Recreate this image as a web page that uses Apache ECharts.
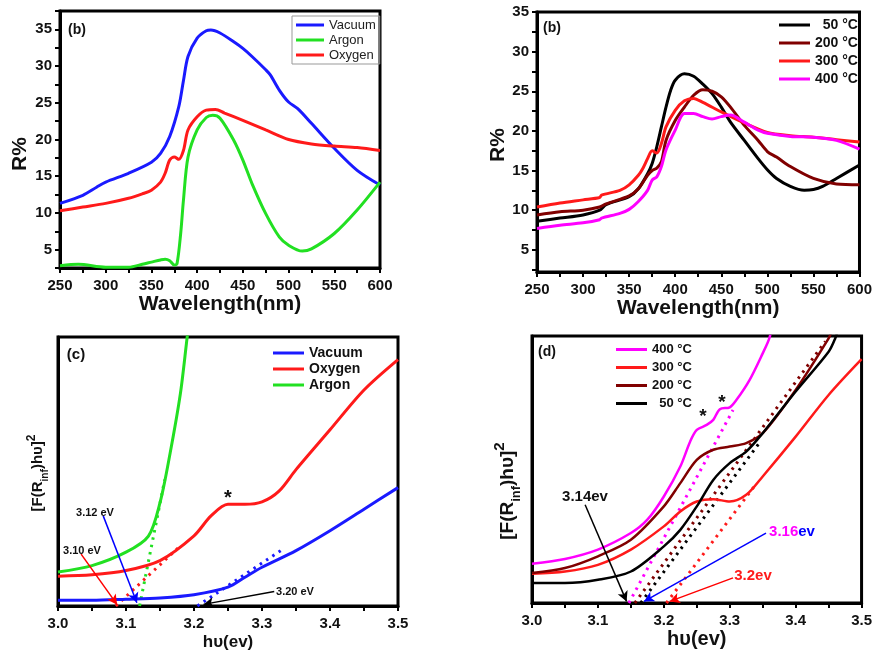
<!DOCTYPE html>
<html>
<head>
<meta charset="utf-8">
<script src="https://cdn.jsdelivr.net/npm/echarts@6/dist/echarts.min.js"></script>
<style>
  html, body { margin: 0; padding: 0; background: #fff; }
  #main { width: 875px; height: 652px; }
</style>
</head>
<body>
<div id="main"></div>
<script>
// tick labels
const wlLabels = [250, 300, 350, 400, 450, 500, 550, 600];
const wlTicks = [250, 275, 300, 325, 350, 375, 400, 425, 450, 475, 500, 525, 550, 575, 600];
const rLabels = [5, 10, 15, 20, 25, 30, 35];
const rTicks = [2.5, 5, 7.5, 10, 12.5, 15, 17.5, 20, 22.5, 25, 27.5, 30, 32.5, 35, 37.5];
const evLabels = [3.0, 3.1, 3.2, 3.3, 3.4, 3.5];
const evTicks = [3.0, 3.05, 3.1, 3.15, 3.2, 3.25, 3.3, 3.35, 3.4, 3.45, 3.5];

// (a) reflectance vs wavelength, atmosphere
const vacuumR = [[250,11.3],[275,12.4],[290,13.5],[300,14.2],[325,15.4],[350,16.9],[360,18.1],[370,20.4],[380,24.5],[385,28],[390,31.3],[400,33.8],[410,34.8],[415,34.9],[425,34.5],[440,33.3],[450,32.4],[460,31.3],[475,29.5],[480,28.8],[490,26.7],[500,25.1],[510,24.2],[525,22.2],[550,18.8],[575,15.8],[600,13.8]];
const argonR = [[250,2.8],[270,3.0],[300,2.6],[325,2.6],[340,3.0],[350,3.3],[360,3.6],[365,3.7],[370,3.5],[375,2.9],[378,3.1],[382,7.2],[385,11.7],[390,17.6],[400,21.3],[410,23],[417,23.3],[425,22.9],[440,19.9],[450,17.2],[460,14],[475,9.9],[490,6.7],[500,5.6],[515,4.8],[525,5.1],[550,7.2],[575,10.4],[600,14.2]];
const oxygenR = [[250,10.3],[275,10.8],[300,11.3],[325,12],[340,12.6],[350,13.1],[360,14.2],[365,15.4],[370,17.2],[375,17.6],[380,17.3],[385,18.5],[390,21.3],[400,23.1],[410,24],[420,24.1],[430,23.6],[450,22.6],[475,21.3],[500,20],[525,19.4],[550,19.1],[575,18.9],[600,18.5]];

// (b) reflectance vs wavelength, temperature
const t50R = [[250,8.6],[275,9.0],[300,9.4],[318,10.0],[325,10.7],[350,11.7],[360,12.7],[370,14.6],[375,15.9],[380,18],[385,20.5],[390,23],[395,25.1],[400,26.4],[410,27.2],[420,26.9],[430,25.9],[440,24.7],[450,23],[460,21.1],[475,18.8],[490,16.5],[500,15.1],[510,14],[525,13],[540,12.5],[550,12.6],[560,13],[575,14],[600,15.7]];
const t200R = [[250,9.4],[275,9.8],[300,10.0],[318,10.4],[325,10.8],[350,11.8],[360,12.7],[370,14.4],[375,15],[380,15.3],[385,16.1],[390,18.8],[400,21.3],[410,23],[420,24.5],[430,25.2],[440,25],[450,24.3],[460,23],[475,20.7],[490,18.8],[500,17.4],[510,16.7],[525,15.5],[550,14],[575,13.3],[600,13.2]];
const t300R = [[250,10.4],[275,10.9],[300,11.3],[318,11.6],[320,11.9],[340,12.5],[350,13.2],[360,14.4],[365,15.3],[370,16.5],[375,17.5],[380,17.2],[385,18.4],[390,20.5],[400,22.6],[410,23.8],[420,24.1],[430,23.6],[450,22.4],[475,21],[500,19.8],[525,19.4],[550,19.2],[575,18.9],[600,18.6]];
const t400R = [[250,7.7],[275,8.1],[300,8.4],[318,8.8],[320,9.0],[340,9.6],[350,10.1],[360,11.1],[370,12.5],[375,13.8],[380,14.2],[385,15.5],[390,17.6],[400,20.1],[410,22.2],[420,22.2],[430,21.8],[440,21.5],[450,21.8],[460,22],[475,21.1],[490,20.1],[500,19.7],[525,19.3],[550,19.2],[575,18.8],[600,17.7]];

// (c) Kubelka-Munk, atmosphere (arbitrary units 0-100)
const vacuumKM = [[3.0,2.1],[3.05,2.1],[3.1,2.5],[3.15,3.0],[3.2,4.2],[3.25,7.0],[3.275,10.7],[3.3,14.4],[3.35,20.6],[3.4,28],[3.45,36],[3.5,44]];
const oxygenKM = [[3.0,11.1],[3.05,11.6],[3.1,13.2],[3.15,16.9],[3.2,26.1],[3.225,33.5],[3.25,37.8],[3.275,37.8],[3.3,38.7],[3.325,42.7],[3.35,50.7],[3.4,65.5],[3.45,80.3],[3.5,91.6]];
const argonKM = [[3.0,12.6],[3.05,15],[3.1,20],[3.133,26],[3.15,38.4],[3.165,57],[3.18,79],[3.19,100],[3.195,110]];
const vacuumFit = [[3.205,0],[3.33,21]];
const oxygenFit = [[3.085,0],[3.18,22.4]];
const argonFit = [[3.12,0],[3.157,47]];

// (d) Kubelka-Munk, temperature
const t400KM = [[3.0,14.7],[3.05,16.5],[3.1,20],[3.15,26.2],[3.175,31.2],[3.2,39.9],[3.225,51.1],[3.24,60.5],[3.25,64.8],[3.265,66.7],[3.275,68.6],[3.285,72.6],[3.3,73.3],[3.31,76],[3.33,83.5],[3.35,93.5],[3.36,99.1],[3.365,105]];
const t300KM = [[3.0,11],[3.05,11.8],[3.1,14.3],[3.15,20],[3.2,28.7],[3.225,34.3],[3.25,38],[3.275,38.9],[3.3,38],[3.325,40.5],[3.35,47.4],[3.4,62.3],[3.45,77.9],[3.5,91.3]];
const t200KM = [[3.0,11.2],[3.05,13.1],[3.1,17.5],[3.15,23.7],[3.2,36.2],[3.225,44.9],[3.25,53.6],[3.275,57.4],[3.3,58.6],[3.325,59.9],[3.35,63.6],[3.4,79.8],[3.45,99.1],[3.455,102]];
const t50KM = [[3.0,7.5],[3.05,7.5],[3.1,8.7],[3.15,11.8],[3.2,21.2],[3.225,27.4],[3.25,36.2],[3.275,46.1],[3.3,52.4],[3.325,56.7],[3.35,63.6],[3.4,79.2],[3.45,94.1],[3.46,99.1],[3.465,103]];
const t400Fit = [[3.147,0],[3.305,72.3]];
const t300Fit = [[3.204,0],[3.337,43.6]];
const t200Fit = [[3.156,0],[3.445,98]];
const t50Fit = [[3.165,0],[3.345,60]];

// band gap arrows [start, end]
const arrowsC = [
  {from: [3.0665,33.5], to: [3.116,1.2], color: '#0000ff'},
  {from: [3.034,19.3], to: [3.087,0.5], color: '#ff0000'},
  {from: [3.318,5.4], to: [3.214,0.6], color: '#000000'}
];
const arrowsD = [
  {from: [3.0806,36.8], to: [3.1435,0.6], color: '#000000'},
  {from: [3.355,26.2], to: [3.17,0.6], color: '#0000ff'},
  {from: [3.305,9.4], to: [3.209,0.6], color: '#ff0000'}
];

const BLUE = '#1a1aff', GREEN = '#22e022', RED = '#ff1a1a', DARKRED = '#800000', MAGENTA = '#ff00ff', BLACK = '#000000';
const FONT = 'Liberation Sans';

var chartDom = document.getElementById('main');
var myChart = echarts.init(chartDom);

function xAxisFor(gridIndex, kind) {
    const wl = kind === 'wl';
    return {
        type: 'value', gridIndex: gridIndex,
        min: wl ? 250 : 3.0, max: wl ? 600 : 3.5,
        name: wl ? 'Wavelength(nm)' : 'h\u03c5(ev)',
        nameLocation: 'middle',
        nameGap: wl ? 20 : (gridIndex == 2 ? 28 : 26),
        nameTextStyle: {fontFamily: FONT, fontWeight: 'bold', color: '#111', fontSize: wl ? 21 : (gridIndex == 2 ? 17 : 20)},
        axisLine: {show: true, lineStyle: {color: '#000', width: 3}},
        axisTick: {show: true, inside: false, length: 5, lineStyle: {width: 2, color: '#000'}, customValues: wl ? wlTicks : evTicks},
        axisLabel: {
            margin: 10, fontFamily: FONT, fontWeight: 'bold', fontSize: 15, color: '#111',
            customValues: wl ? wlLabels : evLabels,
            formatter: v => wl ? String(v) : v.toFixed(1)
        },
        splitLine: {show: false}
    };
}

function yAxisFor(gridIndex, kind, min, max) {
    const r = kind === 'r';
    return {
        type: 'value', gridIndex: gridIndex, min: min, max: max,
        axisLine: {show: true, lineStyle: {color: '#000', width: 3}},
        axisTick: {show: r, length: 5, lineStyle: {width: 2, color: '#000'}, customValues: r ? rTicks : []},
        axisLabel: {
            show: r, margin: 8, fontFamily: FONT, fontWeight: 'bold', fontSize: 15, color: '#111',
            customValues: r ? rLabels : []
        },
        splitLine: {show: false}
    };
}

function curve(name, data, color, xi, width) {
    return {
        name: name, type: 'line', xAxisIndex: xi, yAxisIndex: xi, data: data,
        showSymbol: false, smooth: 0.3, clip: true,
        lineStyle: {color: color, width: width || 3}, itemStyle: {color: color},
        z: 3
    };
}

function fit(name, data, color, xi) {
    return {
        name: name, type: 'line', xAxisIndex: xi, yAxisIndex: xi, data: data,
        showSymbol: false, clip: true,
        lineStyle: {color: color, width: 3, type: [2.5, 5]}, itemStyle: {color: color},
        z: 2
    };
}

function arrowSeries(name, arrows, xi) {
    return {
        name: name, type: 'line', xAxisIndex: xi, yAxisIndex: xi, data: [],
        markLine: {
            silent: true, symbol: ['none', 'arrow'], symbolSize: [8, 10],
            label: {show: false},
            data: arrows.map(a => [
                {coord: a.from, lineStyle: {color: a.color, width: 1.5, type: 'solid'}},
                {coord: a.to}
            ])
        },
        z: 4
    };
}

function txt(x, y, text, size, color, extra) {
    return Object.assign({
        type: 'text', x: x, y: y, z: 100,
        style: {text: text, fontFamily: FONT, fontWeight: 'bold', fontSize: size, fill: color || '#111', align: 'center', verticalAlign: 'middle'}
    }, extra || {});
}

function kmName(x, y, size) {
    return {
        type: 'text', x: x, y: y, rotation: Math.PI / 2, z: 100,
        style: {
            text: '{b|[F(R}{s|inf}{b|)h\u03c5]}{p|2}',
            align: 'center', verticalAlign: 'middle',
            rich: {
                b: {fontFamily: FONT, fontWeight: 'bold', fontSize: size, fill: '#111', lineHeight: size * 1.6},
                s: {fontFamily: FONT, fontWeight: 'bold', fontSize: size * 0.68, fill: '#111', lineHeight: size * 0.8, verticalAlign: 'bottom'},
                p: {fontFamily: FONT, fontWeight: 'bold', fontSize: size * 0.8, fill: '#111', lineHeight: size * 0.9, verticalAlign: 'top'}
            }
        }
    };
}

const gridBox = {show: true, borderColor: '#000', borderWidth: 3, backgroundColor: 'transparent'};

var option = {
    animation: false,
    backgroundColor: '#fff',
    grid: [
        Object.assign({left: 60, top: 11, width: 320, height: 257}, gridBox),
        Object.assign({left: 537, top: 12, width: 323, height: 260}, gridBox),
        Object.assign({left: 58, top: 337, width: 340, height: 270}, gridBox),
        Object.assign({left: 532, top: 336, width: 331, height: 267}, gridBox)
    ],
    xAxis: [xAxisFor(0, 'wl'), xAxisFor(1, 'wl'), xAxisFor(2, 'ev'), xAxisFor(3, 'ev')],
    yAxis: [yAxisFor(0, 'r', 2.5, 37.5), yAxisFor(1, 'r', 2.2, 35), yAxisFor(2, 'km', 0, 100), yAxisFor(3, 'km', 0, 100)],
    legend: [
        {
            data: ['Vacuum', 'Argon', 'Oxygen'], left: 292, top: 16, orient: 'vertical',
            borderColor: '#999', borderWidth: 1, padding: [2, 4, 2, 4], itemGap: 1,
            icon: 'rect', itemWidth: 28, itemHeight: 3,
            textStyle: {fontFamily: FONT, fontSize: 13, color: '#222', lineHeight: 14}
        },
        {
            data: ['50 \u00b0C', '200 \u00b0C', '300 \u00b0C', '400 \u00b0C'], left: 779, top: 18, orient: 'vertical',
            padding: 0, itemGap: 4, icon: 'rect', itemWidth: 31, itemHeight: 3,
            formatter: n => n === '50 \u00b0C' ? '  ' + n : n,
            textStyle: {fontFamily: FONT, fontWeight: 'bold', fontSize: 14, color: '#111', lineHeight: 14}
        },
        {
            data: ['Vacuum', 'Oxygen', 'Argon'], left: 273, top: 346, orient: 'vertical',
            padding: 0, itemGap: 2, icon: 'rect', itemWidth: 31, itemHeight: 3,
            textStyle: {fontFamily: FONT, fontWeight: 'bold', fontSize: 14, color: '#111', lineHeight: 14}
        },
        {
            data: ['400 \u00b0C', '300 \u00b0C', '200 \u00b0C', '50 \u00b0C'], left: 616, top: 343, orient: 'vertical',
            padding: 0, itemGap: 5, icon: 'rect', itemWidth: 31, itemHeight: 3,
            formatter: n => n === '50 \u00b0C' ? '  ' + n : n,
            textStyle: {fontFamily: FONT, fontWeight: 'bold', fontSize: 13, color: '#111', lineHeight: 13}
        }
    ],
    series: [
        curve('Vacuum', vacuumR, BLUE, 0),
        curve('Argon', argonR, GREEN, 0),
        curve('Oxygen', oxygenR, RED, 0),

        curve('50 \u00b0C', t50R, BLACK, 1),
        curve('200 \u00b0C', t200R, DARKRED, 1),
        curve('300 \u00b0C', t300R, RED, 1),
        curve('400 \u00b0C', t400R, MAGENTA, 1),

        curve('Vacuum', vacuumKM, BLUE, 2),
        curve('Oxygen', oxygenKM, RED, 2),
        curve('Argon', argonKM, GREEN, 2),
        fit('fit vacuum', vacuumFit, BLUE, 2),
        fit('fit oxygen', oxygenFit, RED, 2),
        fit('fit argon', argonFit, GREEN, 2),
        arrowSeries('arrows c', arrowsC, 2),

        curve('400 \u00b0C', t400KM, MAGENTA, 3, 2.5),
        curve('300 \u00b0C', t300KM, RED, 3, 2.5),
        curve('200 \u00b0C', t200KM, DARKRED, 3, 2.5),
        curve('50 \u00b0C', t50KM, BLACK, 3, 2.5),
        fit('fit 400', t400Fit, MAGENTA, 3),
        fit('fit 300', t300Fit, RED, 3),
        fit('fit 200', t200Fit, DARKRED, 3),
        fit('fit 50', t50Fit, BLACK, 3),
        arrowSeries('arrows d', arrowsD, 3)
    ],
    graphic: [
        // axis names (rotated)
        txt(20, 154, 'R%', 21, '#111', {rotation: Math.PI / 2}),
        txt(498, 145, 'R%', 21, '#111', {rotation: Math.PI / 2}),
        kmName(38, 473, 15),
        kmName(508, 491, 19),
        // panel tags
        txt(77, 30, '(b)', 14),
        txt(552, 28, '(b)', 14),
        txt(76, 355, '(c)', 15),
        txt(547, 352, '(d)', 14),
        // (c) annotations
        txt(228, 498, '*', 20),
        txt(95, 513, '3.12 eV', 11),
        txt(82, 551, '3.10 eV', 11),
        txt(295, 592, '3.20 eV', 11),
        // (d) annotations
        txt(703, 417, '*', 19),
        txt(722, 403, '*', 19),
        txt(585, 497, '3.14ev', 15),
        {
            type: 'text', x: 792, y: 532, z: 100,
            style: {
                text: '{m|3.16}{b|ev}', align: 'center', verticalAlign: 'middle',
                rich: {
                    m: {fontFamily: FONT, fontWeight: 'bold', fontSize: 15, fill: MAGENTA},
                    b: {fontFamily: FONT, fontWeight: 'bold', fontSize: 15, fill: '#0000ff'}
                }
            }
        },
        txt(753, 576, '3.2ev', 15, RED)
    ]
};
option && myChart.setOption(option);
</script>
</body>
</html>
